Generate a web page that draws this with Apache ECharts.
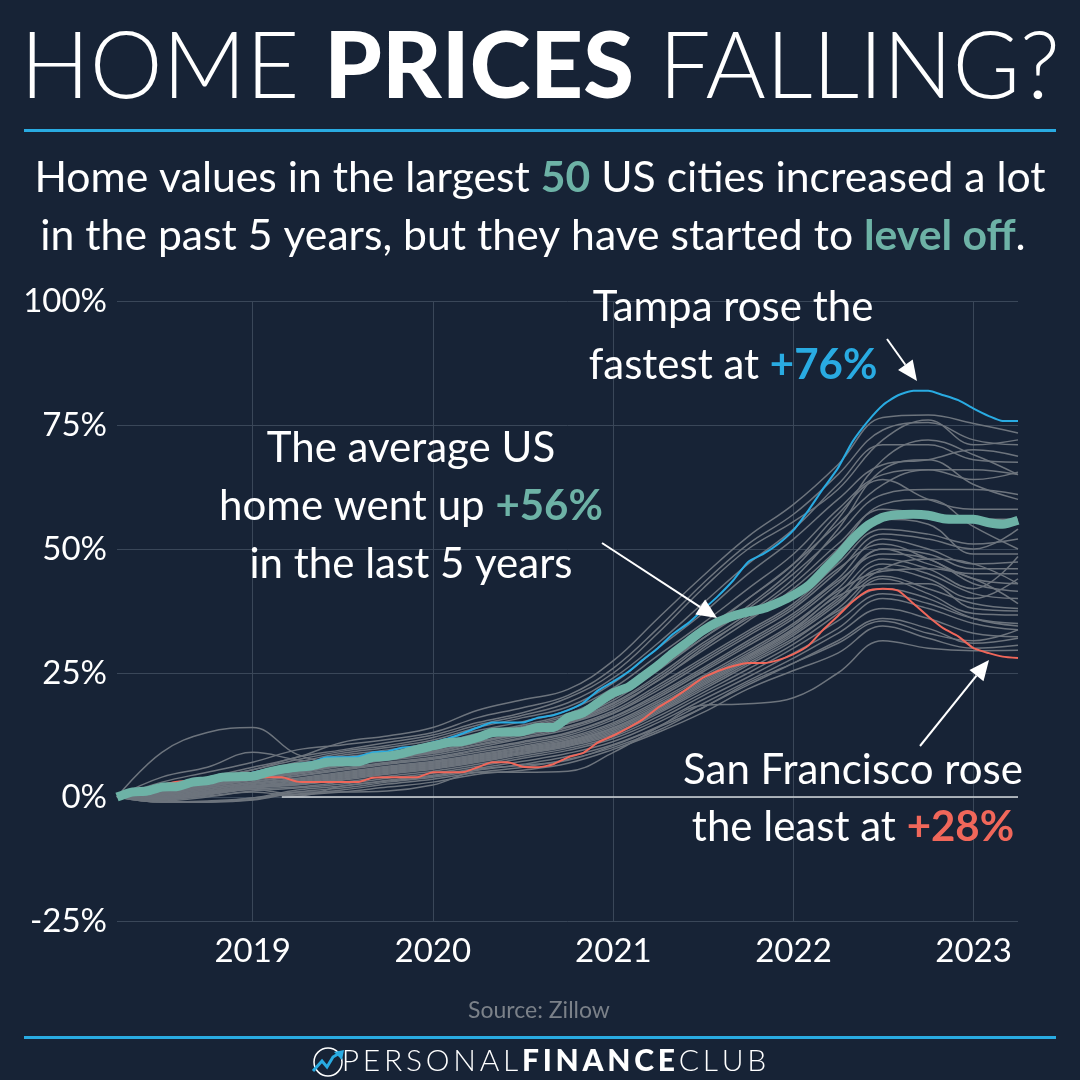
<!DOCTYPE html>
<html>
<head>
<meta charset="utf-8">
<style>html,body{margin:0;padding:0;background:#172336}#chart{width:1080px;height:1080px}</style>
<script src="https://cdn.jsdelivr.net/npm/echarts@6/dist/echarts.min.js"></script>
</head>
<body>
<div id="chart"></div>
<script>
var yTicks = [-25, 0, 25, 50, 75, 100];
var monthDates = [];
for (var yr = 2018; yr <= 2023; yr++) {
    for (var mo = 1; mo <= 12; mo++) {
        if ((yr === 2018 && mo < 4) || (yr === 2023 && mo > 4)) continue;
        monthDates.push(yr + '-' + (mo < 10 ? '0' : '') + mo + '-01');
    }
}
// gray cities are read every third month
var quarterDates = monthDates.filter(function (d, i) { return i % 3 === 0; });

var average = [0,1,1.2,2,2.1,3,3.3,4,4.1,4.2,5,5.6,6,6.3,7,7.1,7.1,8,8.2,8.8,9.6,10.3,11,11.2,12,13,13.1,13.2,14,14,16,17,19,21,22.2,24.2,26.5,29,31.3,33.5,35.3,36.5,37.3,38,39.2,40.7,42.7,45.5,48.6,52,54.8,56.4,56.9,57,56.8,56.1,56,56,55.3,55,55.8];
var tampa = [0,1,1.2,2,2.2,3,3.4,4.2,4.6,4.9,5.6,6,6.6,7,8,8,8.1,9,9.2,10,10.2,11,11.8,12.8,14,15,15,15,16,16.5,17.5,19,21.5,23.3,25.3,27.6,30,32.8,35,37.7,40.5,43.7,47.4,49,51,53.8,57.9,62,66.3,71.7,75.8,79,81,81.9,81.9,81,80,78.3,76.8,75.8,75.8];
var sanFrancisco = [0,1,1.4,2.4,3.1,3.2,3.6,4,4,4,4,4,3.1,3,3,3,3,3.9,4,4,4,5,5,5,6,7,7,6.1,6,6.6,8,8.9,11,12.4,14,15.6,18,19.8,21.9,24,25.4,26.4,27,27,27.6,28.8,30.6,33.6,36.5,39.4,41.6,42,41.6,39,36.4,34,32.4,30,29,28.3,28];
var otherCities = [
    [0,2.5,4,6,8,11,12.3,14,17.5,19.6,21.7,27.5,36,44.5,52.5,59,67,76.5,77,75.3,73.4],
    [0,3,5,7,9.5,10.5,11.6,13,16,18,20.5,26,34,43,51,57,65,74,75.5,72,71],
    [0,2,3.8,5.5,8,9.5,11,12.5,15,17,20,25,33,42,50,55.5,62,72,76,71,72],
    [0,2.2,3.6,5.5,7.5,9.2,10.4,12,14.5,16.5,19,24,31,39,47,54,63,71,71,68,67.5],
    [0,1.6,3.2,5,7,8.8,10,11.5,14,16,18.2,23,30,37,45,52,60,67,68,70,68.7],
    [0,1.8,3,4.6,6.5,8.4,9.5,11,13.4,15.2,17.5,22,28.5,35,42,49,58,65,66,66,65],
    [0,1.5,2.8,4.4,6,8,9,10.5,12.8,14.5,16.8,21,27,33,40,47,55,63,66,64,65.5],
    [0,1,2.5,4.2,5.6,7.6,8.6,10,12.2,14,16,20,26,32,38,45,53,61,62,62,61],
    [0,1.2,2.5,4,5.2,7.2,8.2,9.5,11.6,13.4,15.4,19,24.5,31,37,44,54,66,68,63,60],
    [0,9,13,14,8.6,7,8.2,9.2,11,12.8,14.8,18,23.5,29.5,35.5,42,50,59,60,54.5,50],
    [0,4,6,9,7.5,6.6,7.8,8.8,10.6,12.4,14.2,17.4,22.5,28,33.5,39,47,54,53,51,52],
    [0,0.8,2.2,3.6,4.8,6.2,7.4,8.4,10,11.8,13.6,16.8,21.5,27,32.5,38,45.5,53,52,50,54],
    [0,0.6,2,3.4,4.6,5.8,7,8,9.6,11.2,13,16.2,20.8,26,31.5,37,44,52,50,47,47.4],
    [0,0.5,1.8,3,4.2,5.4,6.6,7.6,9,10.6,12.4,15.6,20,25.2,30.5,36,43,50,49,46,46],
    [0,0.4,1.5,2.8,3.8,5,6.2,7.2,8.6,10.2,12,15,19.4,24.4,29.5,35,42,50,47,45,45],
    [0,0.2,1.2,2.5,3.4,4.6,5.8,6.8,8.2,9.8,11.4,14.4,18.6,23.6,28.6,34,41,48,46,42,48.5],
    [0,0,1,2.2,3,4.2,5.4,6.4,7.8,9.4,11,13.8,18,23,28,33.4,40,47,45,41,40],
    [0,-0.2,0.8,2,2.6,3.8,5,6,7.4,9,10.6,13.2,17.4,22.4,27.4,32.6,39,46,44,40,44],
    [0,-0.4,0.6,1.8,2.4,3.4,4.6,5.6,7,8.6,10.2,12.6,16.8,21.6,26.6,31.6,38,44.5,42,39,38],
    [0,-0.6,0.4,1.6,2,3,4.2,5.2,6.6,8.2,9.8,12.2,16.2,21,25.8,30.8,37,44,41,37,36.7],
    [0,-0.8,0,1.2,1.8,2.6,3.8,4.8,6.2,7.8,9.4,11.8,15.6,20.4,25,30,35.5,41,39,36,35],
    [0,-1,-0.8,-0.2,1.4,2.2,3.4,4.4,5.8,7.2,8.8,11.2,15,19.6,24.2,29,34,40,38,35,33.7],
    [0,-1,-1,-0.6,1,1.8,3,4,5.4,6.6,8.2,10.6,14.2,18.8,23.4,28,33,38,36,33,32.3],
    [0,-0.8,-1,-0.2,0.6,1.4,2.6,3.6,5,6,7.6,10,13.4,18,22.6,27,31.5,36,34,31,32],
    [0,-1,-1,-0.5,1,1,1.2,2.4,5,5,5.2,9,14,18.5,18.8,20,25,31.5,30,29.5,29.6],
    [0,-0.3,0.6,1.5,0.5,1,2,3,4.6,5.4,6.8,9.6,13,17,21.8,25.5,29,34.5,32,30,30.6],
    [0,-0.5,0.2,1,0.2,2.2,3.2,4.2,5.6,6.4,7.4,10.4,14,18,23,27,31,35.5,33,31.5,33.7],
    [0,1,2.2,3.8,4.8,6.6,7.8,9,11,12.8,14.8,18.4,23.4,30,36.5,43,51,58,57,56,56],
    [0,0.9,2.3,3.7,5,6.8,8,9.2,11.2,13,15,18.8,24,30.5,36,41,48,56,55,49,49],
    [0,0.7,2.1,3.5,4.9,6.4,7.6,8.8,10.4,12,14,17,22,27.5,33,38.5,46,51,48,44,43],
    [0,0.5,1.7,3.1,4.3,5.6,6.8,7.8,9.4,11,12.8,16,20.4,25.6,31,36.5,43.5,49,48,43,41.5],
    [0,0.3,1.4,2.7,3.6,4.8,6,7,8.4,10,11.7,14.7,19,24,29,34.6,41.5,45.5,46,44,39],
    [0,0.1,1.1,2.3,3.2,4.4,5.6,6.6,8,9.6,11.2,14,18.3,23.3,28.3,33.7,40.5,43,43,38,37.5],
    [0,-0.1,0.9,2.1,2.8,4,5.2,6.2,7.6,9.2,10.8,13.5,17.7,22.7,27.7,33,39.5,46,48,47,43],
    [0,-0.3,0.7,1.9,2.5,3.6,4.8,5.8,7.2,8.8,10.4,12.9,17.1,22,27,32,37.5,42,40,36,34.5],
    [0,1.1,2.4,4.1,5.4,7.4,8.4,9.8,11.9,13.7,15.7,19.5,25.5,32,38.5,46,56,68,72,69,65],
    [0,1.3,2.6,4.3,5.8,7.8,8.8,10.2,12.5,14.2,16.4,20.5,26.5,33.5,40,47,57,64,60,58,58]
];

var bg = '#172336';
var white = '#ffffff';
var blue = '#29abe2';
var teal = '#6db2a6';
var red = '#f0675a';
var gray = '#6d747d';
var grid = '#3a4759';
var font = 'Lato';

function pairs(dates, values) {
    return values.map(function (v, i) { return [dates[i], v]; });
}

var series = [];
otherCities.forEach(function (row, i) {
    series.push({
        name: 'City ' + (i + 1),
        type: 'line',
        data: pairs(quarterDates, row),
        smooth: 0.4,
        showSymbol: false,
        lineStyle: {color: gray, width: 1.5},
        z: 2
    });
});
series.push({name: 'Tampa', type: 'line', data: pairs(monthDates, tampa), showSymbol: false, smooth: 0.2, lineStyle: {color: blue, width: 2}, z: 3});
series.push({name: 'San Francisco', type: 'line', data: pairs(monthDates, sanFrancisco), showSymbol: false, smooth: 0.2, lineStyle: {color: red, width: 2}, z: 3});
series.push({name: 'US average', type: 'line', data: pairs(monthDates, average), showSymbol: false, smooth: 0.2, lineStyle: {color: teal, width: 9, cap: 'butt'}, z: 4});
// zero line only shows once the cities have left it
series[0].markLine = {
    silent: true,
    symbol: 'none',
    label: {show: false},
    lineStyle: {color: '#d5d9dd', width: 1.5, type: 'solid'},
    data: [[{coord: ['2019-03-01', 0]}, {coord: ['2023-04-01', 0]}]]
};

function label(x, y, parts, size) {
    var rich = {
        n: {fontFamily: font, fontSize: size, fill: white, fontWeight: 400},
        t: {fontFamily: font, fontSize: size, fill: teal, fontWeight: 700},
        b: {fontFamily: font, fontSize: size, fill: blue, fontWeight: 700},
        r: {fontFamily: font, fontSize: size, fill: red, fontWeight: 700},
        w: {fontFamily: font, fontSize: size, fill: white, fontWeight: 900},
        l: {fontFamily: font, fontSize: size, fill: white, fontWeight: 300}
    };
    return {
        type: 'text', x: x, y: y, z: 20,
        style: {text: parts, rich: rich, align: 'center', verticalAlign: 'middle', fontFamily: font, fontSize: size, fill: white}
    };
}

function arrow(x1, y1, x2, y2) {
    var a = Math.atan2(y2 - y1, x2 - x1);
    var len = 20, half = 9;
    var bx = x2 - len * Math.cos(a), by = y2 - len * Math.sin(a);
    return [
        {type: 'line', z: 20, shape: {x1: x1, y1: y1, x2: bx, y2: by}, style: {stroke: white, lineWidth: 2}},
        {type: 'polygon', z: 20, shape: {points: [
            [x2, y2],
            [bx - half * Math.sin(a), by + half * Math.cos(a)],
            [bx + half * Math.sin(a), by - half * Math.cos(a)]
        ]}, style: {fill: white}}
    ];
}

var graphic = [
    {type: 'rect', shape: {x: 24, y: 129, width: 1032, height: 3}, style: {fill: blue}},
    {type: 'rect', shape: {x: 24, y: 1036, width: 1032, height: 3}, style: {fill: blue}},
    label(540, 68, '{l|HOME }{w|PRICES}{l| FALLING?}', 92),
    label(540, 178, '{n|Home values in the largest }{t|50}{n| US cities increased a lot}', 42.7),
    label(533, 236, '{n|in the past 5 years, but they have started to }{t|level off}{n|.}', 42.7),
    label(733, 307, '{n|Tampa rose the}', 42),
    label(733, 365, '{n|fastest at }{b|+76%}', 42),
    label(411, 448, '{n|The average US}', 42),
    label(411, 506, '{n|home went up }{t|+56%}', 42),
    label(411, 564, '{n|in the last 5 years}', 42),
    label(853, 770, '{n|San Francisco rose}', 42),
    label(853, 827, '{n|the least at }{r|+28%}', 42),
    {type: 'text', x: 539, y: 1011, style: {text: 'Source: Zillow', fontFamily: font, fontSize: 23, fill: '#7b8189', align: 'center', verticalAlign: 'middle'}},
    label(554, 1061, '{l|P\u2009E\u2009R\u2009S\u2009O\u2009N\u2009A\u2009L\u2009}{w|F\u2009I\u2009N\u2009A\u2009N\u2009C\u2009E\u2009}{l|C\u2009L\u2009U\u2009B}', 30),
    // logo
    {type: 'circle', shape: {cx: 328, cy: 1062, r: 14}, style: {fill: 'none', stroke: white, lineWidth: 1.5}},
    {type: 'polyline', shape: {points: [[313, 1071], [322, 1061], [327, 1067], [333, 1057], [338, 1054]]}, style: {fill: 'none', stroke: blue, lineWidth: 3}},
    {type: 'polygon', shape: {points: [[334, 1052], [344, 1050], [342, 1060]]}, style: {fill: blue}}
];
graphic = graphic.concat(arrow(887, 339, 917, 381), arrow(602, 543, 717, 618), arrow(920, 746, 989, 660));

var chart = echarts.init(document.getElementById('chart'), null, {renderer: 'canvas'});
chart.setOption({
    backgroundColor: bg,
    animation: false,
    grid: {left: 117, right: 62, top: 301, bottom: 159, containLabel: false},
    xAxis: {
        type: 'time',
        min: '2018-04-01',
        max: '2023-04-01',
        splitNumber: 5,
        axisLine: {show: false},
        axisTick: {show: false},
        axisLabel: {
            color: white, fontSize: 33, fontFamily: font, margin: 14,
            showMinLabel: false, showMaxLabel: false,
            hideOverlap: false,
            formatter: '{yyyy}'
        },
        splitLine: {show: true, showMinLine: false, showMaxLine: false, lineStyle: {color: grid, width: 1}}
    },
    yAxis: {
        type: 'value',
        min: yTicks[0],
        max: yTicks[yTicks.length - 1],
        interval: 25,
        axisLine: {show: false},
        axisTick: {show: false},
        axisLabel: {color: white, fontSize: 33, fontFamily: font, margin: 10, formatter: '{value}%'},
        splitLine: {lineStyle: {color: grid, width: 1}}
    },
    series: series,
    graphic: graphic
});
</script>
</body>
</html>
